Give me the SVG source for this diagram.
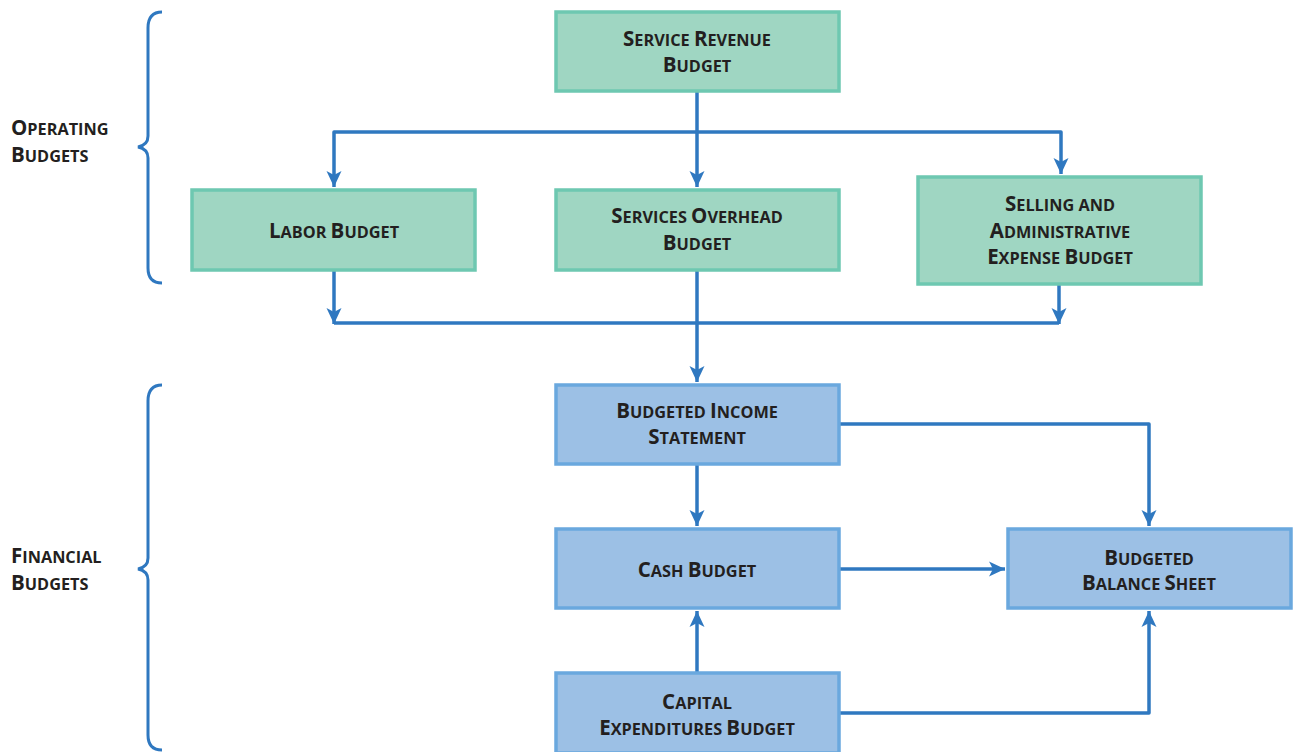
<svg xmlns="http://www.w3.org/2000/svg" width="1294" height="752" viewBox="0 0 1294 752">
<style>
text{font-family:"Open Sans","Liberation Sans",sans-serif;font-weight:700;fill:#231f20;font-size:20.5px;text-anchor:middle}
.l{text-anchor:start}
.s{font-size:16.3px}
.g{fill:#9fd6c2;stroke:#6ec8b1;stroke-width:3.5}
.b{fill:#9cc0e5;stroke:#6aa8de;stroke-width:3.5}
.c{fill:none;stroke:#2f78c0;stroke-width:3.5;stroke-linejoin:round}
.br{fill:none;stroke:#2f78c0;stroke-width:3}
</style>
<defs>
<marker id="a" markerUnits="userSpaceOnUse" markerWidth="18" markerHeight="16" refX="16" refY="8" orient="auto" viewBox="0 0 18 16">
<path d="M0,0.5 L16,8 L0,15.5 L4,8 Z" fill="#2f78c0"/>
</marker>
</defs>
<g id="braces">
<path class="br" d="M162,12 Q148,12 148,28 L148,136 Q148,145 138,147 Q148,149 148,158 L148,268 Q148,283 162,283"/>
<path class="br" d="M162,385 Q148,385 148,401 L148,558 Q148,567 138,569 Q148,571 148,580 L148,735 Q148,750 162,750"/>
</g>
<g id="label-operating">
<text class="l" x="11" y="135">O<tspan class="s">PERATING</tspan></text>
<text class="l" x="11" y="162">B<tspan class="s">UDGETS</tspan></text>
</g>
<g id="label-financial">
<text class="l" x="11" y="563">F<tspan class="s">INANCIAL</tspan></text>
<text class="l" x="11" y="590">B<tspan class="s">UDGETS</tspan></text>
</g>
<g id="connectors">
<path class="c" d="M697,91 L697,187" marker-end="url(#a)"/>
<path class="c" d="M697,132 L334,132 L334,187" marker-end="url(#a)"/>
<path class="c" d="M697,132 L1061,132 L1061,174" marker-end="url(#a)"/>
<path class="c" d="M334,270 L334,324" marker-end="url(#a)"/>
<path class="c" d="M1059,284 L1059,324" marker-end="url(#a)"/>
<path class="c" d="M334,323 L1059,323"/>
<path class="c" d="M697,270 L697,382" marker-end="url(#a)"/>
<path class="c" d="M697,465 L697,526" marker-end="url(#a)"/>
<path class="c" d="M840,424 L1149,424 L1149,526" marker-end="url(#a)"/>
<path class="c" d="M840,569 L1005,569" marker-end="url(#a)"/>
<path class="c" d="M697,672 L697,611" marker-end="url(#a)"/>
<path class="c" d="M840,713 L1149,713 L1149,611" marker-end="url(#a)"/>
</g>
<g id="service-revenue">
<rect class="g" x="556" y="12" width="283" height="79"/>
<text x="697" y="46">S<tspan class="s">ERVICE </tspan>R<tspan class="s">EVENUE</tspan></text>
<text x="697" y="72">B<tspan class="s">UDGET</tspan></text>
</g>
<g id="labor">
<rect class="g" x="192" y="190" width="283" height="80"/>
<text x="334" y="238">L<tspan class="s">ABOR </tspan>B<tspan class="s">UDGET</tspan></text>
</g>
<g id="services-overhead">
<rect class="g" x="556" y="190" width="283" height="80"/>
<text x="697" y="223">S<tspan class="s">ERVICES </tspan>O<tspan class="s">VERHEAD</tspan></text>
<text x="697" y="250">B<tspan class="s">UDGET</tspan></text>
</g>
<g id="selling-admin">
<rect class="g" x="918" y="177" width="283" height="107"/>
<text x="1060" y="211">S<tspan class="s">ELLING AND</tspan></text>
<text x="1060" y="237.5">A<tspan class="s">DMINISTRATIVE</tspan></text>
<text x="1060" y="264">E<tspan class="s">XPENSE </tspan>B<tspan class="s">UDGET</tspan></text>
</g>
<g id="income-statement">
<rect class="b" x="556" y="385" width="283" height="79"/>
<text x="697" y="418">B<tspan class="s">UDGETED </tspan>I<tspan class="s">NCOME</tspan></text>
<text x="697" y="444">S<tspan class="s">TATEMENT</tspan></text>
</g>
<g id="cash">
<rect class="b" x="556" y="529" width="283" height="79"/>
<text x="697" y="577">C<tspan class="s">ASH </tspan>B<tspan class="s">UDGET</tspan></text>
</g>
<g id="balance-sheet">
<rect class="b" x="1008" y="529" width="283" height="79"/>
<text x="1149" y="565">B<tspan class="s">UDGETED</tspan></text>
<text x="1149" y="590">B<tspan class="s">ALANCE </tspan>S<tspan class="s">HEET</tspan></text>
</g>
<g id="capital">
<rect class="b" x="556" y="673" width="283" height="80"/>
<text x="697" y="709">C<tspan class="s">APITAL</tspan></text>
<text x="697" y="735">E<tspan class="s">XPENDITURES </tspan>B<tspan class="s">UDGET</tspan></text>
</g>
</svg>
